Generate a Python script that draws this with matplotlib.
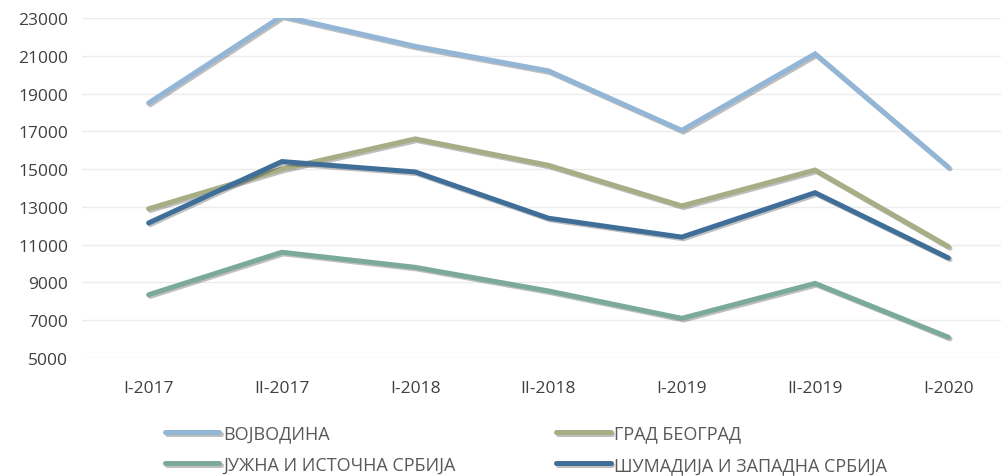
import matplotlib.pyplot as plt
import matplotlib.patheffects as pe

plt.rcParams['font.family'] = ['Open Sans', 'DejaVu Sans']

periods = ["I-2017", "II-2017", "I-2018", "II-2018", "I-2019", "II-2019", "I-2020"]
vojvodina = [18500, 23100, 21500, 20200, 17050, 21100, 15100]
beograd = [12900, 15000, 16600, 15200, 13050, 14950, 10900]
juzna = [8350, 10600, 9800, 8550, 7100, 8950, 6100]
sumadija = [12150, 15400, 14850, 12400, 11400, 13750, 10300]
yticks = list(range(5000, 23001, 2000))

series = [
    ("ВОЈВОДИНА", vojvodina, "#93b6d6"),
    ("ГРАД БЕОГРАД", beograd, "#a6ae86"),
    ("ЈУЖНА И ИСТОЧНА СРБИЈА", juzna, "#7baa9a"),
    ("ШУМАДИЈА И ЗАПАДНА СРБИЈА", sumadija, "#3f6e98"),
]

fig = plt.figure(figsize=(10.01, 4.77), dpi=100)
ax = fig.add_axes([82 / 1001, 118 / 477, 933 / 1001, 340 / 477])

x = range(len(periods))
lines = {}
for name, vals, col in series:
    ln, = ax.plot(x, vals, color=col, lw=3.6, solid_capstyle='round', solid_joinstyle='miter',
                  label=name,
                  path_effects=[pe.SimpleLineShadow(offset=(1.2, -1.2), alpha=0.25), pe.Normal()])
    lines[name] = ln

ax.set_xlim(-0.5, len(periods) - 0.5)
ax.set_ylim(5000, 23000)
ax.set_yticks(yticks)
ax.set_xticks(list(x))
ax.set_xticklabels(periods)
ax.tick_params(length=0, labelsize=12.5, labelcolor="#404040")
ax.tick_params(axis='x', pad=16)
ax.tick_params(axis='y', pad=10)
ax.grid(axis='y', color="#ececec", lw=1)
ax.set_axisbelow(True)
for s in ax.spines.values():
    s.set_visible(False)

order = ["ВОЈВОДИНА", "ЈУЖНА И ИСТОЧНА СРБИЈА", "ГРАД БЕОГРАД", "ШУМАДИЈА И ЗАПАДНА СРБИЈА"]
leg = fig.legend([lines[n] for n in order], order, ncol=2, loc='upper left',
                 bbox_to_anchor=(158 / 1001, 1 - 418 / 477), frameon=False,
                 fontsize=13, handlelength=3.0, handletextpad=0.2,
                 columnspacing=5.6, labelspacing=0.75, borderaxespad=0)
for t in leg.get_texts():
    t.set_color("#595959")

fig.savefig("out.png", dpi=100)
